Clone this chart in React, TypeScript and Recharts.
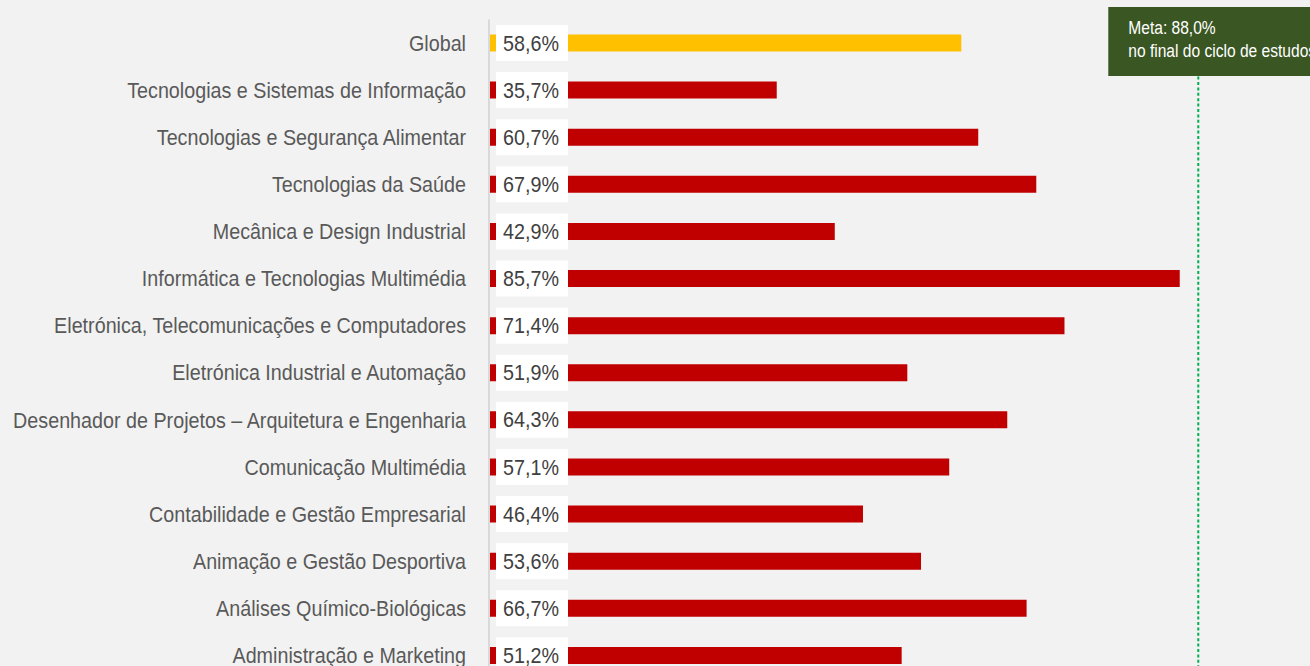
import { BarChart, Bar, XAxis, YAxis, Cell, LabelList, ReferenceLine } from "recharts";

const categories = [
  "Global",
  "Tecnologias e Sistemas de Informação",
  "Tecnologias e Segurança Alimentar",
  "Tecnologias da Saúde",
  "Mecânica e Design Industrial",
  "Informática e Tecnologias Multimédia",
  "Eletrónica, Telecomunicações e Computadores",
  "Eletrónica Industrial e Automação",
  "Desenhador de Projetos – Arquitetura e Engenharia",
  "Comunicação Multimédia",
  "Contabilidade e Gestão Empresarial",
  "Animação e Gestão Desportiva",
  "Análises Químico-Biológicas",
  "Administração e Marketing",
];
const values = [58.6, 35.7, 60.7, 67.9, 42.9, 85.7, 71.4, 51.9, 64.3, 57.1, 46.4, 53.6, 66.7, 51.2];
const META = 88;
const metaLines = ["Meta: 88,0%", "no final do ciclo de estudos"];

// Arial-like glyphs squeezed horizontally to look like Arial Narrow
const FONT = '"Liberation Sans", Arial, sans-serif';
const SQUEEZE = 0.918;

const data = categories.map((name, i) => ({ name, value: values[i] }));

const fmt = (v: number) => v.toFixed(1).replace(".", ",") + "%";

function CatTick(props: any) {
  const { x, y, payload } = props;
  return (
    <text
      transform={`translate(${x},${y}) scale(${SQUEEZE},1)`}
      textAnchor="end"
      dy="0.355em"
      fontSize={21.5}
      fill="#595959"
      fontFamily={FONT}
    >
      {payload.value}
    </text>
  );
}

function ValueBox(props: any) {
  const { x, y, height, value } = props;
  const cy = y + height / 2;
  return (
    <g>
      <rect x={x + 7} y={cy - 18} width={72} height={36} fill="#ffffff" />
      <text
        transform={`translate(${x + 42},${cy}) scale(${SQUEEZE},1)`}
        dy="0.355em"
        textAnchor="middle"
        fontSize={21.5}
        fill="#404040"
        fontFamily={FONT}
      >
        {fmt(value)}
      </text>
    </g>
  );
}

function MetaBox(props: any) {
  const x = props.viewBox?.x ?? 0;
  return (
    <g>
      <rect x={x - 90} y={7} width={230} height={69} fill="#3a5623" />
      <text transform={`translate(${x - 70},34) scale(0.82,1)`} fontSize={19} fill="#ffffff" fontFamily={FONT}>
        {metaLines[0]}
      </text>
      <text transform={`translate(${x - 70},57) scale(0.82,1)`} fontSize={19} fill="#ffffff" fontFamily={FONT}>
        {metaLines[1]}
      </text>
    </g>
  );
}

export default function App() {
  return (
    <div style={{ position: "absolute", left: 0, top: 0, width: 1310, height: 666, overflow: "hidden", background: "#f2f2f2" }}>
      <BarChart
        width={1310}
        height={679}
        data={data}
        layout="vertical"
        margin={{ top: 19.5, right: 15, left: 0, bottom: 0 }}
        barSize={17}
      >
        <XAxis type="number" domain={[0, 100]} hide />
        <YAxis
          type="category"
          dataKey="name"
          width={489}
          tickSize={0}
          tickMargin={23}
          axisLine={{ stroke: "#d9d9d9", strokeWidth: 2 }}
          tick={<CatTick />}
          interval={0}
        />
        <ReferenceLine
          x={META}
          stroke="#00b050"
          strokeWidth={2}
          strokeDasharray="3 2.4"
          label={<MetaBox />}
        />
        <Bar dataKey="value" isAnimationActive={false}>
          {data.map((d, i) => (
            <Cell key={d.name} fill={i === 0 ? "#ffc000" : "#c00000"} />
          ))}
          <LabelList dataKey="value" content={<ValueBox />} />
        </Bar>
      </BarChart>
    </div>
  );
}
